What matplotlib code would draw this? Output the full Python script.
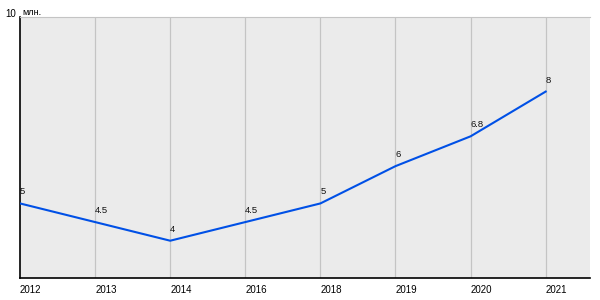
import matplotlib
matplotlib.use('Agg')
import matplotlib.pyplot as plt

years = ['2012', '2013', '2014', '2016', '2018', '2019', '2020', '2021']
values = [5, 4.5, 4, 4.5, 5, 6, 6.8, 8]
value_labels = ['5', '4.5', '4', '4.5', '5', '6', '6.8', '8']

plt.rcParams['font.family'] = ['Liberation Sans', 'DejaVu Sans']

fig = plt.figure(figsize=(6, 3), dpi=100)
ax = fig.add_axes([20 / 600, 22 / 300, 570 / 600, 261 / 300])
ax.set_facecolor('#ebebeb')

x = list(range(len(years)))
for xi in x[1:]:
    ax.axvline(xi, color='#c4c4c4', linewidth=0.9, zorder=1)

ax.plot(x, values, color='#0050e6', linewidth=1.5, zorder=3)
for xi, v, lab in zip(x, values, value_labels):
    ax.annotate(lab, (xi, v), xytext=(0, 5), textcoords='offset points',
                ha='left', va='bottom', fontsize=6.8, color='#111111')

ax.set_xlim(0, 7.59)
ax.set_ylim(3, 10)
ax.set_xticks(x)
ax.set_xticklabels(years, ha='left', fontsize=7)
ax.set_yticks([])
ax.tick_params(axis='x', length=0, pad=5)

ax.spines['right'].set_visible(False)
ax.spines['top'].set_color('#c4c4c4')
ax.spines['top'].set_linewidth(0.8)
ax.spines['left'].set_color('black')
ax.spines['bottom'].set_color('black')
ax.spines['left'].set_linewidth(1.2)
ax.spines['bottom'].set_linewidth(1.2)

fig.text(16 / 600, 1 - 17 / 300, '10', fontsize=7, ha='right', va='baseline')
fig.text(22 / 600, 1 - 15 / 300, 'млн.', fontsize=6.5, ha='left', va='baseline')

fig.savefig('out.png', dpi=100)
